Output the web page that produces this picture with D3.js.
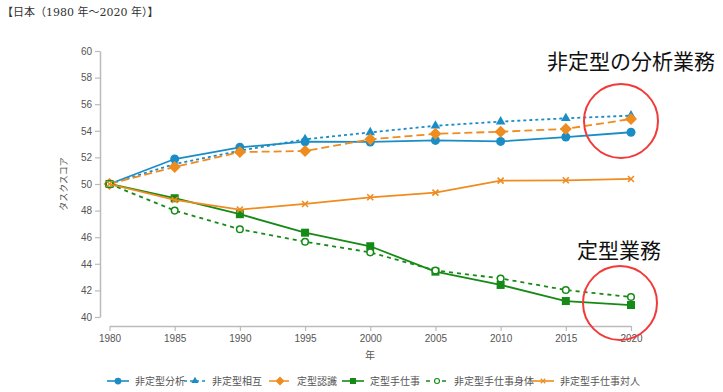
<!DOCTYPE html>
<html>
<head>
<meta charset="utf-8">
<script src="https://cdn.jsdelivr.net/npm/d3@7"></script>
<style>
body { margin: 0; background: #fff; }
svg text { font-family: "Liberation Sans", Arial, sans-serif; }
</style>
</head>
<body>
<div class="content"></div>
<script>
var years = [1980, 1985, 1990, 1995, 2000, 2005, 2010, 2015, 2020];
var yTicks = [40, 42, 44, 46, 48, 50, 52, 54, 56, 58, 60];
var names = ["非定型分析", "非定型相互", "定型認識", "定型手仕事", "非定型手仕事身体", "非定型手仕事対人"];

var nonRoutineAnalytic = [50, 51.88, 52.76, 53.18, 53.16, 53.28, 53.2, 53.53, 53.89];
var nonRoutineInteractive = [50, 51.5, 52.5, 53.36, 53.88, 54.38, 54.69, 54.94, 55.14];
var routineCognitive = [50, 51.28, 52.4, 52.48, 53.36, 53.77, 53.93, 54.14, 54.89];
var routineManual = [50, 48.93, 47.73, 46.34, 45.32, 43.41, 42.41, 41.2, 40.9];
var nonRoutineManualPhysical = [50, 48.0, 46.6, 45.66, 44.86, 43.5, 42.9, 42.03, 41.5];
var nonRoutineManualPersonal = [50, 48.8, 48.08, 48.5, 49.0, 49.35, 50.25, 50.28, 50.38];

var seriesValues = [nonRoutineAnalytic, nonRoutineInteractive, routineCognitive,
                    routineManual, nonRoutineManualPhysical, nonRoutineManualPersonal];

var blue = "#1b8dc6", orange = "#ef8c1f", green = "#168a16";
var styles = [
  {color: blue, dash: null, shape: "circle"},
  {color: blue, dash: "3,3", shape: "triangle"},
  {color: orange, dash: "8,4", shape: "diamond"},
  {color: green, dash: null, shape: "square"},
  {color: green, dash: "4,4", shape: "ring"},
  {color: orange, dash: null, shape: "cross"}
];

var svg = d3.select(".content").append("svg")
  .attr("width", 723).attr("height", 392);

svg.append("text")
  .attr("x", 2).attr("y", 16)
  .style("font-family", "'DejaVu Serif', 'Noto Sans CJK JP', serif")
  .style("font-size", "11px")
  .attr("fill", "#333")
  .text("【日本（1980 年～2020 年）】");

var x = d3.scaleLinear().domain([1980, 2020]).range([109.5, 631]);
var y = d3.scaleLinear().domain([40, 60]).range([317, 51]);

var yAxis = svg.append("g")
  .attr("transform", "translate(100,0)")
  .call(d3.axisLeft(y).tickValues(yTicks).tickSize(5).tickSizeOuter(0));
var xAxis = svg.append("g")
  .attr("transform", "translate(0,326)")
  .call(d3.axisBottom(x).tickValues(years).tickFormat(d3.format("d")).tickSize(5).tickSizeOuter(0));

[xAxis, yAxis].forEach(function(a) {
  a.select(".domain").attr("stroke", "#bbb").attr("stroke-width", 1.5);
  a.selectAll(".tick line").attr("stroke", "#bbb").attr("stroke-width", 1.2);
  a.selectAll(".tick text").attr("fill", "#555").style("font-size", "10px");
});
yAxis.selectAll(".tick text").attr("x", -8);
xAxis.selectAll(".tick text").attr("y", 9);

svg.append("text")
  .attr("transform", "translate(67,184) rotate(-90)")
  .attr("text-anchor", "middle")
  .style("font-size", "9px")
  .style("font-family", "'Noto Sans CJK JP', sans-serif")
  .attr("fill", "#555")
  .text("タスクスコア");

svg.append("text")
  .attr("x", 370).attr("y", 359)
  .attr("text-anchor", "middle")
  .style("font-size", "10px")
  .style("font-family", "'Noto Sans CJK JP', sans-serif")
  .attr("fill", "#555")
  .text("年");

function marker(g, shape, color) {
  if (shape == "circle") {
    g.append("circle").attr("r", 4.5).attr("fill", color);
  } else if (shape == "triangle") {
    g.append("path").attr("d", d3.symbol(d3.symbolTriangle, 40)()).attr("fill", color);
  } else if (shape == "diamond") {
    g.append("path").attr("d", "M0,-6L6,0L0,6L-6,0Z").attr("fill", color);
  } else if (shape == "square") {
    g.append("rect").attr("x", -4).attr("y", -4).attr("width", 8).attr("height", 8).attr("fill", color);
  } else if (shape == "ring") {
    g.append("circle").attr("r", 3.3).attr("fill", "#fff").attr("stroke", color).attr("stroke-width", 1.5);
  } else {
    g.append("path").attr("d", "M-3,-3L3,3M-3,3L3,-3").attr("stroke", color).attr("stroke-width", 1.6);
  }
}

var line = d3.line()
  .x(function(d, i) { return x(years[i]); })
  .y(function(d) { return y(d); });

seriesValues.forEach(function(vals, k) {
  var st = styles[k];
  var g = svg.append("g");
  g.append("path")
    .attr("d", line(vals))
    .attr("fill", "none")
    .attr("stroke", st.color)
    .attr("stroke-width", 1.8)
    .attr("stroke-dasharray", st.dash);
  vals.forEach(function(v, i) {
    var m = g.append("g").attr("transform", "translate(" + x(years[i]) + "," + y(v) + ")");
    marker(m, st.shape, st.color);
  });
});

// legend
var legendX = [107, 184, 269, 342, 426, 532];
names.forEach(function(n, k) {
  var st = styles[k];
  var g = svg.append("g").attr("transform", "translate(" + legendX[k] + ",381)");
  g.append("line").attr("x1", 0).attr("x2", 22)
    .attr("stroke", st.color).attr("stroke-width", 1.6)
    .attr("stroke-dasharray", st.dash);
  var m = g.append("g").attr("transform", "translate(11,0) scale(0.75)");
  marker(m, st.shape, st.color);
  g.append("text").attr("x", 28).attr("y", 3.5)
    .style("font-size", "10px")
    .style("font-family", "'Noto Sans CJK JP', sans-serif")
    .attr("fill", "#555")
    .text(n);
});

// annotations
var notes = [["非定型の分析業務", 547, 69], ["定型業務", 577, 258]];
notes.forEach(function(a) {
  svg.append("text").attr("x", a[1]).attr("y", a[2])
    .style("font-size", "21px")
    .style("font-family", "'Noto Sans CJK JP', sans-serif")
    .attr("fill", "#111")
    .text(a[0]);
});
svg.selectAll(".ring")
  .data([[621, 121], [620, 303]])
  .enter().append("circle")
  .attr("cx", function(d) { return d[0]; })
  .attr("cy", function(d) { return d[1]; })
  .attr("r", 37)
  .attr("fill", "none")
  .attr("stroke", "#f23a3a")
  .attr("stroke-width", 2);
</script>
</body>
</html>
